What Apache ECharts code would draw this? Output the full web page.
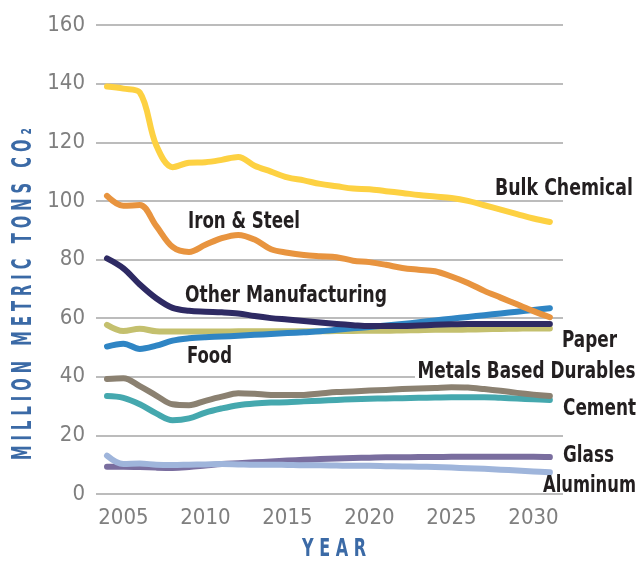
<!DOCTYPE html>
<html>
<head>
<meta charset="utf-8">
<script src="https://cdn.jsdelivr.net/npm/echarts@6/dist/echarts.min.js"></script>
<style>
  html, body { margin: 0; padding: 0; background: #fff; }
  #chart { width: 640px; height: 561px; }
</style>
</head>
<body>
<div id="chart"></div>
<script>
// years on the x axis
var years = [2004, 2005, 2006, 2007, 2008, 2009, 2010, 2011, 2012, 2013, 2014, 2015, 2016, 2017,
  2018, 2019, 2020, 2021, 2022, 2023, 2024, 2025, 2026, 2027, 2028, 2029, 2030, 2031];
var yearTicks = [2005, 2010, 2015, 2020, 2025, 2030];

// million metric tons CO2
var bulkChemical = [139, 138.3, 137, 119, 111.5, 113, 113.2, 114, 115, 112, 110, 108, 107, 105.8,
  105, 104.2, 104, 103.3, 102.7, 102, 101.5, 101, 100, 98.5, 97, 95.5, 94, 92.8];
var ironSteel = [101.7, 98.3, 98.6, 91.5, 84.3, 82.6, 85, 87.3, 88.4, 86.8, 83.5, 82.3, 81.5, 81.1,
  80.8, 79.6, 79.1, 78.2, 77.1, 76.5, 76, 74.2, 72, 69.3, 67, 64.7, 62.4, 60.3];
var otherMfg = [80.4, 77, 71.5, 66.8, 63.5, 62.5, 62.2, 62, 61.6, 60.7, 60, 59.5, 59, 58.5,
  58, 57.6, 57.3, 57.3, 57.3, 57.5, 57.7, 57.9, 58, 58, 58, 58, 58, 58];
var paper = [57.7, 55.6, 56.4, 55.5, 55.4, 55.4, 55.4, 55.4, 55.5, 55.5, 55.5, 55.5, 55.5, 55.5,
  55.6, 55.6, 55.7, 55.7, 55.8, 55.9, 56, 56, 56.1, 56.2, 56.3, 56.4, 56.5, 56.5];
var food = [50.3, 51.3, 49.5, 50.6, 52.3, 53.1, 53.5, 53.7, 54, 54.3, 54.6, 54.9, 55.2, 55.5,
  56, 56.5, 57, 57.5, 58, 58.6, 59.2, 59.8, 60.4, 61, 61.6, 62.2, 62.8, 63.4];
var metals = [39.2, 39.5, 36.8, 33.6, 30.6, 30.3, 31.8, 33.2, 34.4, 34.2, 33.8, 33.8, 33.8, 34.3,
  34.8, 35, 35.3, 35.5, 35.8, 36, 36.2, 36.4, 36.3, 35.8, 35.2, 34.5, 33.9, 33.4];
var cement = [33.4, 32.8, 30.6, 27.5, 25.2, 25.8, 27.8, 29.2, 30.3, 30.9, 31.2, 31.3, 31.6, 31.8,
  32.1, 32.3, 32.5, 32.6, 32.7, 32.8, 32.9, 33, 33, 33, 32.8, 32.6, 32.3, 32.1];
var glass = [9.3, 9.3, 9.2, 9, 8.9, 9.2, 9.7, 10.2, 10.5, 10.8, 11.1, 11.4, 11.7, 11.9,
  12.1, 12.3, 12.4, 12.5, 12.5, 12.6, 12.6, 12.7, 12.7, 12.7, 12.7, 12.7, 12.7, 12.6];
var aluminum = [13.1, 10.2, 10.4, 10, 9.9, 10, 10.1, 10.2, 10.1, 10, 10, 9.9, 9.8, 9.8,
  9.7, 9.6, 9.6, 9.5, 9.4, 9.3, 9.2, 9, 8.8, 8.6, 8.3, 8, 7.7, 7.4];

var narrow = "'DejaVu Sans Condensed', 'Liberation Sans Narrow', sans-serif";
var labelFont = "bold 23px " + narrow;

// the reference uses a very condensed face, so squeeze text to its measured width
var measureCtx = document.createElement("canvas").getContext("2d");
function squeeze(text, font, width) {
  measureCtx.font = font;
  return width / measureCtx.measureText(text).width;
}

function pairs(values) {
  return values.map(function (v, i) {
    return [years[i], v];
  });
}

function line(name, values, color) {
  return {
    name: name,
    type: "line",
    data: pairs(values),
    smooth: 0.35,
    showSymbol: false,
    symbol: "none",
    lineStyle: { color: color, width: 6, cap: "round", join: "round" }
  };
}

function label(text, x, y, width, bg) {
  var style = {
    text: text,
    font: labelFont,
    fill: "#231f20",
    textAlign: "left",
    textVerticalAlign: "middle"
  };
  if (bg) {
    style.backgroundColor = "#fff";
    style.padding = [0, 0, 0, 3];
  }
  return {
    type: "text", x: x, y: y, z: 100,
    scaleX: squeeze(text, labelFont, width),
    style: style
  };
}

var yTitle = "M I L L I O N   M E T R I C   T O N S   C O ₂";
var yTitleFont = "bold 26px " + narrow;
var xTitle = "Y E A R";
var xTitleFont = "bold 25px " + narrow;

var chart = echarts.init(document.getElementById("chart"));
chart.setOption({
  animation: false,
  grid: { left: 96, right: 77, top: 25, bottom: 67 },
  xAxis: {
    type: "value",
    min: 2003.33,
    max: 2031.8,
    axisLine: { show: false },
    axisTick: { show: false },
    splitLine: { show: false },
    axisLabel: {
      customValues: yearTicks,
      margin: 13,
      color: "#7f7f7f",
      fontFamily: narrow,
      fontSize: 22,
      formatter: function (v) { return String(v); }
    }
  },
  yAxis: {
    type: "value",
    min: 0,
    max: 160,
    interval: 20,
    axisLine: { show: false },
    axisTick: { show: false },
    splitLine: { lineStyle: { color: "#a6a6a6", width: 1.5 } },
    axisLabel: {
      margin: 11,
      color: "#7f7f7f",
      fontFamily: narrow,
      fontSize: 22
    }
  },
  series: [
    line("Glass", glass, "#7a6e9f"),
    line("Aluminum", aluminum, "#9fb5db"),
    line("Cement", cement, "#45a8ae"),
    line("Metals Based Durables", metals, "#8b8171"),
    line("Paper", paper, "#c4c06e"),
    line("Food", food, "#2f85c4"),
    line("Other Manufacturing", otherMfg, "#2e2a63"),
    line("Iron & Steel", ironSteel, "#e8943f"),
    line("Bulk Chemical", bulkChemical, "#fdd142")
  ],
  graphic: [
    label("Bulk Chemical", 495, 189, 138),
    label("Iron & Steel", 188, 222, 112),
    label("Other Manufacturing", 185, 296, 202),
    label("Food", 187, 357, 45),
    label("Paper", 562, 341, 55),
    label("Metals Based Durables", 415, 372, 218, true),
    label("Cement", 563, 409, 73),
    label("Glass", 563, 456, 51),
    label("Aluminum", 543, 486, 93),
    {
      type: "text",
      x: 334,
      y: 549,
      scaleX: squeeze(xTitle, xTitleFont, 64),
      style: {
        text: xTitle,
        font: xTitleFont,
        fill: "#3b6aa6",
        textAlign: "center",
        textVerticalAlign: "middle"
      }
    },
    {
      type: "text",
      x: 24,
      y: 294,
      rotation: Math.PI / 2,
      scaleX: squeeze(yTitle, yTitleFont, 332),
      style: {
        text: yTitle,
        font: yTitleFont,
        fill: "#3b6aa6",
        textAlign: "center",
        textVerticalAlign: "middle"
      }
    }
  ]
});
</script>
</body>
</html>
